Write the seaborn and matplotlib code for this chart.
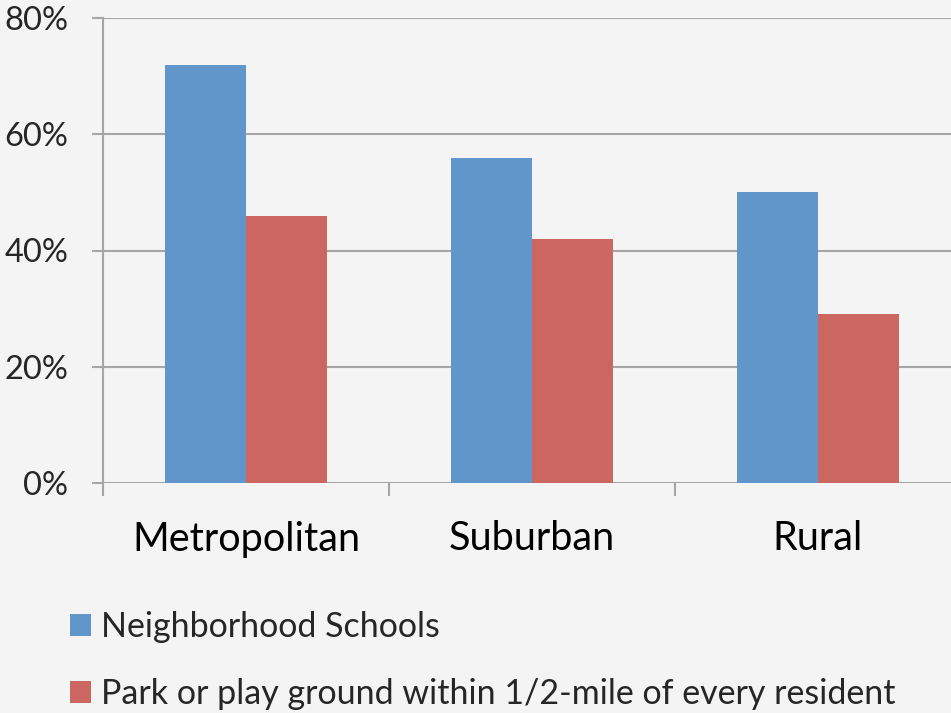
import matplotlib
matplotlib.use("Agg")
import matplotlib.pyplot as plt
import seaborn as sns
import pandas as pd
from matplotlib.ticker import FuncFormatter

categories = ["Metropolitan", "Suburban", "Rural"]
series_names = ["Neighborhood Schools",
                "Park or play ground within 1/2-mile of every resident"]
schools = [72, 56, 50]
parks = [46, 42, 29]
y_ticks = [0, 20, 40, 60, 80]

df = pd.DataFrame({
    "area": categories * 2,
    "series": [series_names[0]] * 3 + [series_names[1]] * 3,
    "value": schools + parks,
})

sns.set_theme(style="white")
plt.rcParams["font.family"] = ["Lato", "DejaVu Sans"]

bg = "#F4F4F4"
grid = "#A6A6A6"
fig = plt.figure(figsize=(9.51, 7.13), dpi=100, facecolor=bg)
ax = fig.add_axes([103 / 951, 1 - 483 / 713, 858 / 951, 465 / 713])
ax.set_facecolor(bg)

sns.barplot(data=df, x="area", y="value", hue="series",
            palette=["#6096C9", "#CC6660"], width=0.566, gap=0,
            saturation=1, linewidth=0, ax=ax, legend=True)

ax.set_ylim(0, 80)
ax.set_xlim(-0.5, 2.5)
ax.set_yticks(y_ticks)
ax.yaxis.set_major_formatter(FuncFormatter(lambda v, _: f"{v:.0f}%"))
ax.yaxis.grid(True, color=grid, linewidth=1.5)
ax.set_axisbelow(True)
ax.set_xlabel("")
ax.set_ylabel("")

for s in ["top", "right", "bottom"]:
    ax.spines[s].set_visible(False)
ax.spines["left"].set_color(grid)
ax.spines["left"].set_linewidth(1.5)

# category boundary ticks below the baseline
ax.set_xticks([-0.5, 0.5, 1.5, 2.5], minor=True)
ax.tick_params(axis="x", which="minor", length=9, width=1.5, color=grid, bottom=True)
ax.tick_params(axis="x", which="major", length=0, labelsize=28.5, pad=27, colors="black")
ax.tick_params(axis="y", length=8, width=1.5, color=grid, labelsize=23.5, pad=17, left=True)

handles, labels = ax.get_legend_handles_labels()
ax.get_legend().remove()
fig.legend(handles, labels, loc="upper left", bbox_to_anchor=(56 / 951, 1 - 597 / 713),
           frameon=False, fontsize=24.5, handlelength=0.62, handleheight=0.62,
           handletextpad=0.3, labelspacing=1.05, borderaxespad=0)

fig.savefig("out.png", dpi=100, facecolor=bg)
